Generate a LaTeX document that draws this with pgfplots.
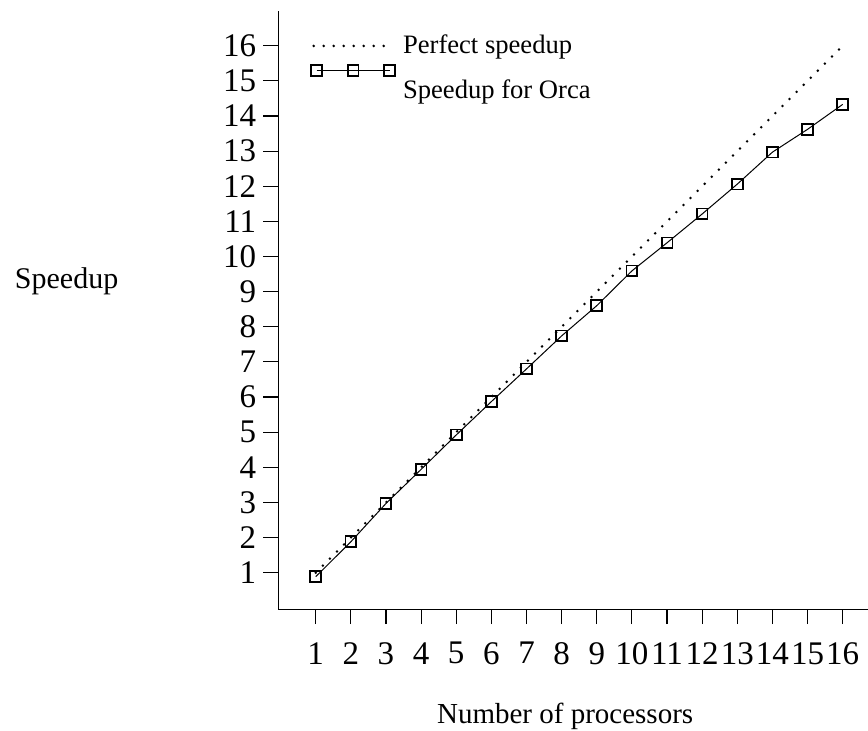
\documentclass[border=0pt]{standalone}
\usepackage{fontspec}
\setmainfont{Liberation Serif}
\usepackage{pgfplots}
\pgfplotsset{compat=1.18}
\pgfplotsset{
  dotleg/.style={legend image code/.code={\draw[##1] (0pt,0pt) -- (39pt,0pt);}},
  markleg/.style={legend image code/.code={\draw[##1, overlay] plot coordinates {(1.5pt,10pt) (19.75pt,10pt) (38pt,10pt)};}},
}
\begin{document}
\begin{tikzpicture}
\begin{axis}[
  anchor=origin, at={(0pt,0pt)},
  x=17.565pt, y=17.565pt,
  xmin=-0.07, xmax=16.72, ymin=-0.04, ymax=17,
  axis x line=bottom, axis y line=left,
  axis line style={-, line width=0.6pt},
  xtick={1,...,16}, ytick={1,...,16},
  tick align=outside, major tick length=7.5pt,
  every tick/.style={black, line width=0.6pt},
  font=\fontsize{14.5}{17}\selectfont,
  tick label style={font=\fontsize{16.5}{19}\selectfont},
  xticklabel style={yshift=-5.5pt},
  /pgf/number format/assume math mode=true,
  xlabel={Number of processors}, ylabel={Speedup},
  every axis x label/.style={at={(axis cs:8.1,0)}, anchor=center, yshift=-54.5pt},
  every axis y label/.style={at={(axis cs:0,9.3)}, anchor=center, xshift=-107pt, font=\fontsize{15}{18}\selectfont},
  legend style={at={(axis cs:0.89,16.37)}, anchor=north west, draw=none, fill=none,
    inner sep=0pt, row sep=9.5pt, nodes={inner sep=1pt, anchor=west},
    font=\fontsize{13.3}{15}\selectfont,
    /tikz/every odd column/.append style={column sep=4pt}},
  legend cell align=left,
]
\addplot[black, line width=1.4pt, line cap=round, dash pattern=on 0pt off 5pt, dotleg]
  coordinates {(1,1) (16,16)};
\addlegendentry{Perfect speedup}
\addplot[black, line width=0.5pt, mark=square, mark size=2.7pt,
  mark options={line width=0.9pt, fill=white}, markleg]
  coordinates {
  (1,0.885) (2,1.88) (3,2.97) (4,3.94) (5,4.92) (6,5.87) (7,6.80) (8,7.74)
  (9,8.60) (10,9.59) (11,10.39) (12,11.21) (13,12.06) (14,12.97) (15,13.62) (16,14.33)};
\addlegendentry{Speedup for Orca}
\end{axis}
\pgfresetboundingbox
\path (-140.3pt,-61.1pt) rectangle (293.7pt,303.9pt);
\end{tikzpicture}
\end{document}
